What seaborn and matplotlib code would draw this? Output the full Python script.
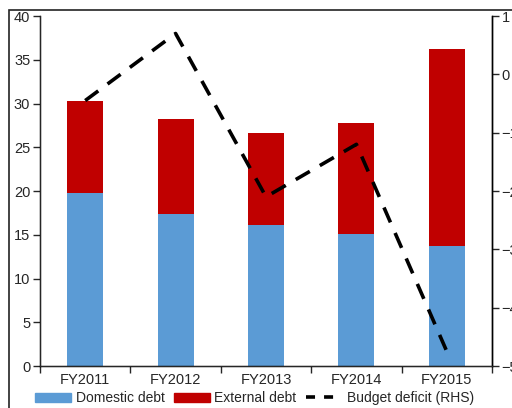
import seaborn as sns
import matplotlib.pyplot as plt
import pandas as pd
from matplotlib.patches import Rectangle, Patch
from matplotlib.lines import Line2D

years = ["FY2011", "FY2012", "FY2013", "FY2014", "FY2015"]
domestic = [19.8, 17.4, 16.1, 15.1, 13.7]
external = [10.5, 10.8, 10.5, 12.7, 22.5]
deficit = [-0.45, 0.7, -2.1, -1.2, -4.75]

total = [d + e for d, e in zip(domestic, external)]
df = pd.DataFrame({"year": years, "domestic": domestic, "total": total, "deficit": deficit})

sns.set_style("white")
plt.rcParams['font.family'] = ['Liberation Sans', 'DejaVu Sans']

fig = plt.figure(figsize=(5.12, 4.08), dpi=100)
ax = fig.add_axes([40 / 512, 42 / 408, 452 / 512, 350 / 408])

blue = "#5B9BD5"
red = "#C00000"

# stacked bars: total (red) behind, domestic (blue) in front
sns.barplot(data=df, x="year", y="total", color=red, width=0.4, saturation=1, linewidth=0, ax=ax)
sns.barplot(data=df, x="year", y="domestic", color=blue, width=0.4, saturation=1, linewidth=0, ax=ax)

ax.set_ylim(0, 40)
ax.set_xlim(-0.5, 4.5)
ax.set_yticks(range(0, 41, 5))
ax.set_xlabel("")
ax.set_ylabel("")
ax.tick_params(axis="y", direction="out", length=5, width=1, labelsize=10.5, pad=2, left=True)
ax.tick_params(axis="x", length=0, labelsize=10.5, pad=5)
# category boundary ticks on x axis
ax.set_xticks([i - 0.5 for i in range(6)], minor=True)
ax.tick_params(axis="x", which="minor", direction="out", length=5, width=1, bottom=True)
for s in ["left", "bottom", "right"]:
    ax.spines[s].set_color("black")
    ax.spines[s].set_linewidth(1)
ax.spines["top"].set_visible(False)

ax2 = ax.twinx()
ax2.plot(range(len(years)), df["deficit"], color="black", lw=2.6, dashes=(4.5, 3.2))
ax2.set_ylim(-5, 1)
ax2.set_yticks(range(-5, 2))
ax2.tick_params(axis="y", direction="out", length=5, width=1, labelsize=10.5, pad=2, right=True)
ax2.spines["top"].set_visible(False)
ax2.spines["right"].set_color("black")
ax2.spines["right"].set_linewidth(1)
ax2.grid(False)

handles = [
    Patch(color=blue, label="Domestic debt"),
    Patch(color=red, label="External debt"),
    Line2D([], [], color="black", lw=2.6, dashes=(2.5, 2.5), label="Budget deficit (RHS)"),
]
fig.legend(handles=handles, loc="center", bbox_to_anchor=(0.497, 10 / 408), ncol=3, frameon=False,
           fontsize=10, handlelength=2.6, handleheight=0.6, handletextpad=0.3, columnspacing=0.7,
           borderpad=0)

# outer chart frame (partly cropped)
fig.add_artist(Rectangle((9 / 512, -0.2), 1.2, 1.2 - 10 / 408, fill=False, lw=1.2,
                         edgecolor="#222222", transform=fig.transFigure))

fig.savefig("out.png", dpi=100)
